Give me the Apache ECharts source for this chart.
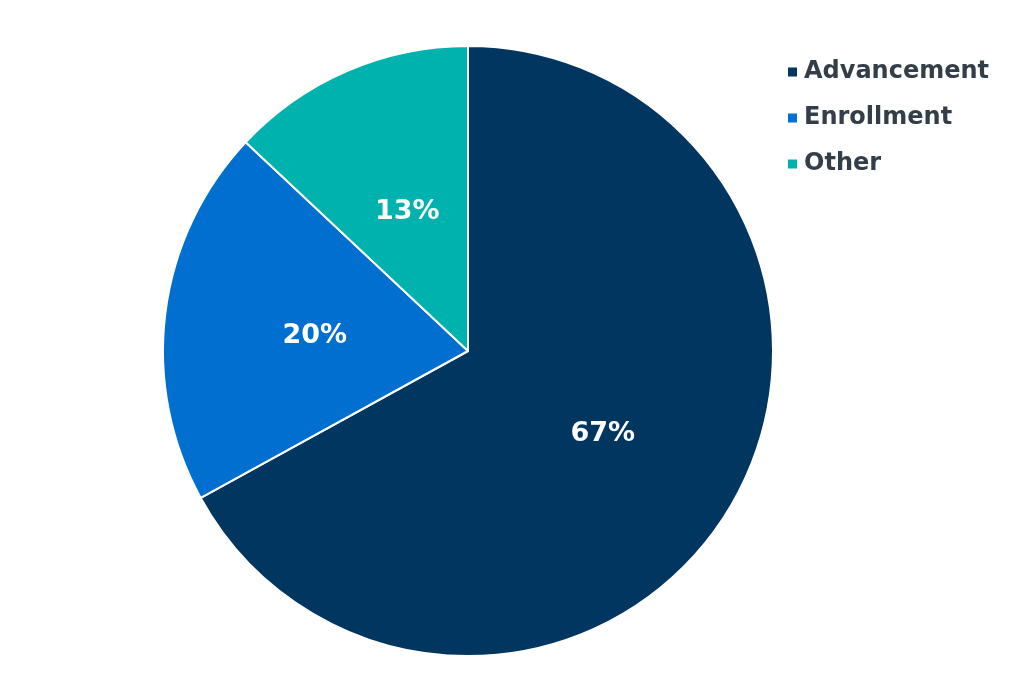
<!DOCTYPE html>
<html lang="en">
  <head>
    <meta charset="UTF-8" />
    <title>Pie</title>
    <style>
      html, body { margin: 0; padding: 0; background: #fff; }
      #container { width: 1024px; height: 684px; }
    </style>
    <script src="https://cdn.jsdelivr.net/npm/echarts@6/dist/echarts.min.js"></script>
  </head>
  <body>
    <div id="container"></div>
    <script>
      const categories = ['Advancement', 'Enrollment', 'Other']
      const values = [67, 20, 13]
      const colors = ['#003660', '#006fcf', '#00b2ae']

      const chart = echarts.init(document.getElementById('container'))
      chart.setOption({
        animation: false,
        legend: {
          orient: 'vertical',
          left: 781,
          top: 55,
          icon: 'rect',
          itemWidth: 11,
          itemHeight: 11,
          itemGap: 22,
          data: categories,
          textStyle: {
            fontFamily: 'DejaVu Sans',
            fontWeight: 'bold',
            fontSize: 24,
            lineHeight: 24,
            color: '#333e48',
            padding: [0, 0, 0, 1],
          },
        },
        series: [
          {
            type: 'pie',
            center: [468, 351],
            radius: 305,
            startAngle: 90,
            clockwise: true,
            itemStyle: { borderColor: '#fff', borderWidth: 2 },
            label: {
              show: true,
              position: 'inside',
              formatter: '{c}%',
              color: '#fff',
              fontFamily: 'DejaVu Sans',
              fontWeight: 'bold',
              fontSize: 27,
              offset: [1, 4],
            },
            labelLine: { show: false },
            data: categories.map((name, i) => ({
              name: name,
              value: values[i],
              itemStyle: { color: colors[i] },
            })),
          },
        ],
      })
    </script>
  </body>
</html>
